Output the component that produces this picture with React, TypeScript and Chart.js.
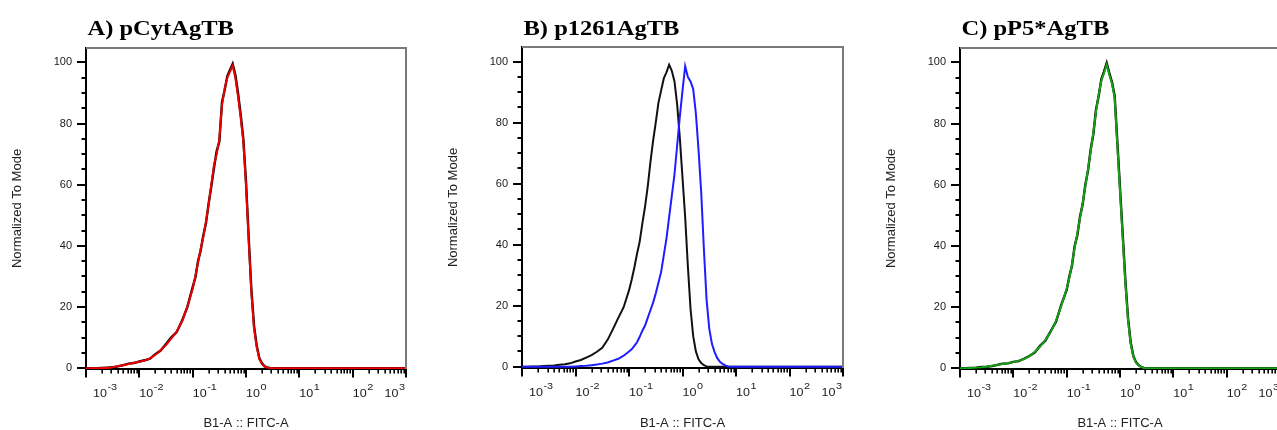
import React, { useEffect, useRef } from "react";
import { Chart, registerables } from "chart.js";

Chart.register(...registerables);

// Histogram bin centres, as log10 of the FITC-A value
const BIN_LOG10 = [
  -3.0, -2.9, -2.8, -2.7, -2.6, -2.5, -2.4, -2.3, -2.2, -2.1,
  -2.0, -1.9, -1.8, -1.7, -1.6, -1.5, -1.4, -1.3, -1.2, -1.1,
  -1.0, -0.95, -0.9, -0.85, -0.8, -0.75, -0.7, -0.65, -0.6, -0.55,
  -0.5, -0.45, -0.4, -0.35, -0.3, -0.25, -0.2, -0.15, -0.1, -0.05,
  0.0, 0.05, 0.1, 0.15, 0.2, 0.25, 0.3, 0.35, 0.4, 0.45,
  0.5, 0.55, 0.6, 0.65, 0.7, 0.75, 0.8, 0.85, 0.9, 0.95,
  1.0, 1.5, 2.0, 2.5, 3.0,
];

// Panel A
const A_CONTROL = [
  0, 0, 0, 0.1, 0.2, 0.3, 0.6, 1.0, 1.5, 1.7,
  2.2, 2.6, 3.1, 4.6, 5.8, 7.9, 10.1, 11.8, 15.5, 20.0,
  26.5, 29.6, 35, 38.5, 43.5, 47.5, 54, 59.5, 65.5, 71,
  74, 87, 91, 95.5, 97.5, 99.5, 96, 90, 83, 75,
  61, 43, 26, 14, 7.5, 3.3, 1.6, 0.6, 0.3, 0.1,
  0, 0, 0, 0, 0, 0, 0, 0, 0, 0,
  0, 0, 0, 0, 0,
];
const A_SAMPLE = [
  0, 0, 0, 0.1, 0.1, 0.3, 0.7, 1.0, 1.4, 1.8,
  2.1, 2.5, 3.2, 4.4, 5.9, 7.6, 9.8, 12.0, 15.2, 20.2,
  26, 30, 34.5, 39, 43, 48, 53.5, 60, 66.5, 70,
  75, 86, 91.5, 95, 97, 99, 95, 89, 82, 74,
  60, 42, 25, 13, 7, 3, 1.4, 0.5, 0.2, 0.1,
  0, 0, 0, 0, 0, 0, 0, 0, 0, 0,
  0, 0, 0, 0, 0,
];

// Panel B
const B_CONTROL = [
  0, 0, 0.1, 0.1, 0.2, 0.3, 0.4, 0.6, 0.8, 1.1,
  1.7, 2.2, 3.0, 3.8, 4.9, 6.2, 8.8, 12.3, 16.0, 19.5,
  25.0, 28.5, 32.5, 37, 41, 47, 52.5, 59, 67, 74,
  80, 86.5, 90.5, 94.5, 96.5, 99, 97, 93.5, 86, 75,
  62, 49, 33, 19, 10, 5, 2.4, 1.2, 0.5, 0.1,
  0, 0, 0, 0, 0, 0, 0, 0, 0, 0,
  0, 0, 0, 0, 0,
];
const B_SAMPLE = [
  0, 0, 0, 0, 0, 0, 0, 0, 0, 0,
  0.1, 0.2, 0.3, 0.5, 0.7, 1.0, 1.4, 2.0, 2.6, 3.6,
  5.0, 5.7, 6.8, 8.0, 9.8, 11.8, 13.5, 16, 18.5, 21,
  24, 27.5, 31, 36.5, 42, 49, 56, 63, 72.5, 82,
  90.5, 98.5, 95, 93.5, 91, 83, 71, 57, 38.5, 22,
  12.5, 7.5, 4.8, 2.8, 1.6, 0.9, 0.4, 0.1, 0, 0,
  0, 0, 0, 0, 0,
];

// Panel C
const C_CONTROL = [
  0, 0, 0.1, 0.2, 0.4, 0.5, 0.7, 1.1, 1.5, 1.6,
  2.1, 2.3, 3.1, 4.0, 5.1, 7.3, 9.0, 12.1, 15.2, 20.8,
  25.6, 30, 33.6, 40, 43.5, 49.5, 53.6, 60, 64.6, 71.5,
  76.5, 84.5, 89, 94.5, 97, 99.8, 96.5, 93.5, 89, 74,
  59, 44, 29, 16.5, 8.5, 4, 2, 1, 0.4, 0.1,
  0, 0, 0, 0, 0, 0, 0, 0, 0, 0,
  0, 0, 0, 0, 0,
];
const C_SAMPLE = [
  0, 0, 0.1, 0.2, 0.3, 0.5, 0.8, 1.1, 1.4, 1.7,
  2.0, 2.4, 3.0, 3.9, 5.3, 7.1, 9.2, 11.8, 15.5, 20.5,
  26, 29.5, 34, 39.5, 44, 49, 54, 59.5, 65, 71,
  77, 84, 89.5, 94, 96.5, 99.3, 96, 93, 88.5, 73,
  58, 43, 28, 16, 8, 3.8, 1.8, 0.9, 0.4, 0.1,
  0, 0, 0, 0, 0, 0, 0, 0, 0, 0,
  0, 0, 0, 0, 0,
];

const X_TICKS = [0.001, 0.01, 0.1, 1, 10, 100, 1000];
const X_TICK_EXPONENTS = ["-3", "-2", "-1", "0", "1", "2", "3"];
const Y_TICKS = [0, 20, 40, 60, 80, 100];
const PANEL_TITLES = ["A) pCytAgTB", "B) p1261AgTB", "C) pP5*AgTB"];
const X_TITLE = "B1-A :: FITC-A";
const Y_TITLE = "Normalized To Mode";

const CANVAS_W = 436;
const CANVAS_H = 430;
const AXIS_W = 86;
const STRETCH = 1.14;
const SANS = '"Liberation Sans", Arial, Helvetica, sans-serif';
const SERIF = '"Liberation Serif", "Times New Roman", serif';

type Series = { data: number[]; color: string; width: number };
type Panel = {
  title: string;
  areaLeft: number;
  areaW: number;
  top: number;
  bottom: number;
  yMin: number;
  yMax: number;
  series: Series[];
};

const PANELS: Panel[] = [
  {
    title: PANEL_TITLES[0], areaLeft: 86, areaW: 320, top: 48, bottom: 369, yMin: -0.25, yMax: 104.7,
    series: [
      { data: A_SAMPLE, color: "#ee0000", width: 2 },
      { data: A_CONTROL, color: "#000000", width: 2.4 },
    ],
  },
  {
    title: PANEL_TITLES[1], areaLeft: 522, areaW: 321, top: 47, bottom: 368, yMin: -0.43, yMax: 104.8,
    series: [
      { data: B_SAMPLE, color: "#1e1eff", width: 2 },
      { data: B_CONTROL, color: "#111111", width: 2 },
    ],
  },
  {
    title: PANEL_TITLES[2], areaLeft: 960, areaW: 320, top: 48, bottom: 369, yMin: -0.25, yMax: 104.7,
    series: [
      { data: C_SAMPLE, color: "#16a016", width: 2 },
      { data: C_CONTROL, color: "#000000", width: 2.4 },
    ],
  },
];

function stretchedText(ctx: CanvasRenderingContext2D, text: string, x: number, y: number) {
  ctx.save();
  ctx.translate(x, y);
  ctx.scale(STRETCH, 1);
  ctx.fillText(text, 0, 0);
  ctx.restore();
}

function makeDecorPlugin(p: Panel) {
  return {
    id: "flowDecor",
    afterDraw(chart: any) {
      const { ctx, chartArea: a, scales } = chart;
      const xs = scales.x;
      const ys = scales.y;
      ctx.save();

      // top and right frame
      ctx.strokeStyle = "#7a7a7a";
      ctx.lineWidth = 2;
      ctx.beginPath();
      ctx.moveTo(a.left, a.top);
      ctx.lineTo(a.right, a.top);
      ctx.lineTo(a.right, a.bottom);
      ctx.stroke();

      // y ticks (major + minor)
      ctx.strokeStyle = "#000";
      ctx.lineWidth = 2;
      for (let v = 0; v <= 100; v += 5) {
        const y = Math.round(ys.getPixelForValue(v));
        const len = v % 20 === 0 ? 9 : 4.5;
        ctx.beginPath();
        ctx.moveTo(a.left - len, y);
        ctx.lineTo(a.left, y);
        ctx.stroke();
      }

      // x ticks (decades + minors)
      for (let k = 0; k < X_TICKS.length; k++) {
        const base = X_TICKS[k];
        const px = Math.round(xs.getPixelForValue(base));
        ctx.lineWidth = 2;
        ctx.beginPath();
        ctx.moveTo(px, a.bottom);
        ctx.lineTo(px, a.bottom + 8.5);
        ctx.stroke();
        if (k < X_TICKS.length - 1) {
          ctx.lineWidth = 1.6;
          for (let m = 2; m <= 9; m++) {
            const mx = Math.round(xs.getPixelForValue(base * m)) + 0.2;
            ctx.beginPath();
            ctx.moveTo(mx, a.bottom);
            ctx.lineTo(mx, a.bottom + 4.5);
            ctx.stroke();
          }
        }
      }

      // x tick labels: 10 with superscript exponent
      ctx.fillStyle = "#1a1a1a";
      ctx.textAlign = "left";
      ctx.textBaseline = "alphabetic";
      const baseFont = `11px ${SANS}`;
      const expFont = `9.5px ${SANS}`;
      for (let k = 0; k < X_TICKS.length; k++) {
        const px = xs.getPixelForValue(X_TICKS[k]);
        ctx.font = baseFont;
        const wb = ctx.measureText("10").width * STRETCH;
        ctx.font = expFont;
        const we = ctx.measureText(X_TICK_EXPONENTS[k]).width * STRETCH;
        const w = wb + we + 0.5;
        let left = px + 7 - wb / 2;
        if (left < a.left + 7) left = a.left + 7;
        if (left + w > a.right - 1) left = a.right - 1 - w;
        ctx.font = baseFont;
        stretchedText(ctx, "10", left, a.bottom + 28);
        ctx.font = expFont;
        stretchedText(ctx, X_TICK_EXPONENTS[k], left + wb + 0.5, a.bottom + 21);
      }

      // panel title
      ctx.fillStyle = "#000";
      ctx.font = `bold 21.5px ${SERIF}`;
      stretchedText(ctx, p.title, a.left + 1.5, 35);

      ctx.restore();
    },
  };
}

function PanelChart({ p }: { p: Panel }) {
  const ref = useRef<HTMLCanvasElement | null>(null);
  useEffect(() => {
    const canvas = ref.current;
    if (!canvas) return;
    const chart = new Chart(canvas, {
      type: "line",
      data: {
        datasets: p.series.map((s) => ({
          data: BIN_LOG10.map((e, i) => ({ x: Math.pow(10, e), y: s.data[i] })),
          borderColor: s.color,
          borderWidth: s.width,
          pointRadius: 0,
          tension: 0,
          fill: false,
        })),
      },
      options: {
        responsive: false,
        animation: false,
        devicePixelRatio: 1,
        events: [],
        layout: {
          padding: { left: 0, right: CANVAS_W - AXIS_W - p.areaW, top: p.top, bottom: 0 },
        },
        plugins: {
          legend: { display: false },
          tooltip: { enabled: false },
          title: { display: false },
        },
        scales: {
          x: {
            type: "logarithmic",
            position: "bottom",
            min: 0.001,
            max: 1000,
            afterBuildTicks: (s: any) => {
              s.ticks = X_TICKS.map((v) => ({ value: v }));
            },
            afterFit: (s: any) => {
              s.height = CANVAS_H - p.bottom;
            },
            ticks: { display: false },
            grid: { display: false, drawTicks: false },
            border: { display: true, color: "#000", width: 2 },
            title: {
              display: true,
              text: X_TITLE,
              color: "#222",
              font: { family: SANS, size: 13, lineHeight: 1 },
              padding: { top: 0, bottom: 0 },
            },
          },
          y: {
            type: "linear",
            min: p.yMin,
            max: p.yMax,
            afterBuildTicks: (s: any) => {
              s.ticks = Y_TICKS.map((v) => ({ value: v }));
            },
            afterFit: (s: any) => {
              s.width = AXIS_W;
            },
            ticks: {
              color: "#1a1a1a",
              font: { family: SANS, size: 11 },
              padding: 14,
            },
            grid: { display: false, drawTicks: false },
            border: { display: true, color: "#000", width: 2 },
            title: {
              display: true,
              text: Y_TITLE,
              color: "#222",
              font: { family: SANS, size: 13, lineHeight: 1 },
              padding: { top: 10.5, bottom: 0 },
            },
          },
        },
      } as any,
      plugins: [makeDecorPlugin(p)],
    });
    return () => chart.destroy();
  }, [p]);
  return (
    <canvas
      ref={ref}
      width={CANVAS_W}
      height={CANVAS_H}
      style={{ position: "absolute", left: p.areaLeft - AXIS_W, top: 0, width: CANVAS_W, height: CANVAS_H }}
    />
  );
}

export default function App() {
  return (
    <div
      style={{
        position: "fixed",
        left: 0,
        top: 0,
        width: 1277,
        height: 430,
        overflow: "hidden",
        background: "#fff",
      }}
    >
      {PANELS.map((p) => (
        <PanelChart key={p.title} p={p} />
      ))}
    </div>
  );
}
